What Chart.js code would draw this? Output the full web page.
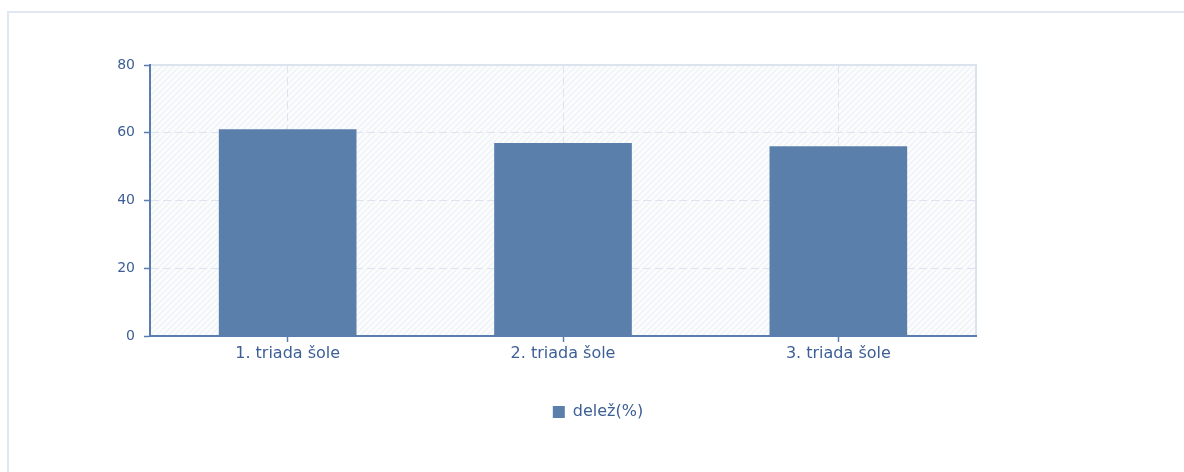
<!DOCTYPE html>
<html>
<head>
<meta charset="utf-8">
<script src="https://cdn.jsdelivr.net/npm/chart.js@4.4.1/dist/chart.umd.min.js"></script>
<style>
  html, body { margin: 0; padding: 0; background: #fff; }
  body { width: 1184px; height: 472px; overflow: hidden; position: relative; }
  #frame { position: absolute; left: 7px; top: 11px; width: 1300px; height: 600px;
           border-left: 2px solid #e1e7f1; border-top: 2px solid #e1e7f1; box-sizing: border-box; }
  #wrap { position: absolute; left: 0; top: 0; width: 1184px; height: 472px; }
</style>
</head>
<body>
<div id="frame"></div>
<div id="wrap"><canvas id="c" width="1184" height="472"></canvas></div>
<script>
const categories = ['1. triada šole', '2. triada šole', '3. triada šole'];
const shareValues = [61, 57, 56];
const seriesLabel = 'delež(%)';
const yTicks = [0, 20, 40, 60, 80];

const textColor = '#3d5f96';
const axisColor = '#5a7db0';
const gridColor = '#dde4ee';
const barColor = '#5b7fab';

function makeHatch() {
  const s = 6;
  const p = document.createElement('canvas');
  p.width = s; p.height = s;
  const g = p.getContext('2d');
  g.fillStyle = '#fbfcfd';
  g.fillRect(0, 0, s, s);
  g.strokeStyle = '#eff2f5';
  g.lineWidth = 1.3;
  g.beginPath();
  g.moveTo(0, s); g.lineTo(s, 0);
  g.moveTo(-s / 2, s / 2); g.lineTo(s / 2, -s / 2);
  g.moveTo(s / 2, s * 1.5); g.lineTo(s * 1.5, s / 2);
  g.stroke();
  return p;
}

const plotBg = {
  id: 'plotBg',
  beforeDraw(chart) {
    const { ctx, chartArea: a } = chart;
    ctx.save();
    ctx.fillStyle = ctx.createPattern(makeHatch(), 'repeat');
    ctx.fillRect(a.left, a.top, a.right - a.left, a.bottom - a.top);
    ctx.strokeStyle = '#dbe3ef';
    ctx.lineWidth = 2;
    ctx.beginPath();
    ctx.moveTo(a.left, a.top);
    ctx.lineTo(a.right, a.top);
    ctx.lineTo(a.right, a.bottom);
    ctx.stroke();
    ctx.restore();
  }
};

Chart.defaults.font.family = '"DejaVu Sans", Verdana, sans-serif';
Chart.defaults.font.size = 13;
Chart.defaults.color = textColor;

new Chart(document.getElementById('c'), {
  type: 'bar',
  data: {
    labels: categories,
    datasets: [{
      label: seriesLabel,
      data: shareValues,
      backgroundColor: barColor,
      borderWidth: 0,
      barPercentage: 0.5,
      categoryPercentage: 1.0
    }]
  },
  options: {
    responsive: false,
    animation: false,
    layout: { padding: { left: 12, right: 0, top: 65, bottom: 42 } },
    plugins: {
      legend: {
        position: 'bottom',
        labels: {
          boxWidth: 12, boxHeight: 12, padding: 10,
          color: textColor,
          font: { size: 16 }
        }
      },
      tooltip: { enabled: false }
    },
    scales: {
      x: {
        offset: true,
        grid: {
          offset: false,
          color: gridColor,
          tickColor: axisColor,
          tickLength: 6,
          tickWidth: 1.5
        },
        border: { color: axisColor, width: 2, dash: [8, 4] },
        ticks: { padding: 2, color: textColor, font: { size: 16 } },
        afterFit(s) { s.height = 58; }
      },
      y: {
        min: 0, max: 80,
        afterBuildTicks(s) { s.ticks = yTicks.map(v => ({ value: v })); },
        grid: {
          color: gridColor,
          tickColor: axisColor,
          tickLength: 6,
          tickWidth: 1.5
        },
        border: { color: axisColor, width: 2, dash: [8, 4] },
        ticks: { padding: 9, color: textColor, font: { size: 14 } },
        afterFit(s) { s.width = 138; }
      },
      yRight: {
        position: 'right',
        display: true,
        min: 0, max: 80,
        grid: { display: false, drawTicks: false },
        border: { display: false },
        ticks: { display: false },
        afterFit(s) { s.width = 208; }
      }
    }
  },
  plugins: [plotBg]
});
</script>
</body>
</html>
